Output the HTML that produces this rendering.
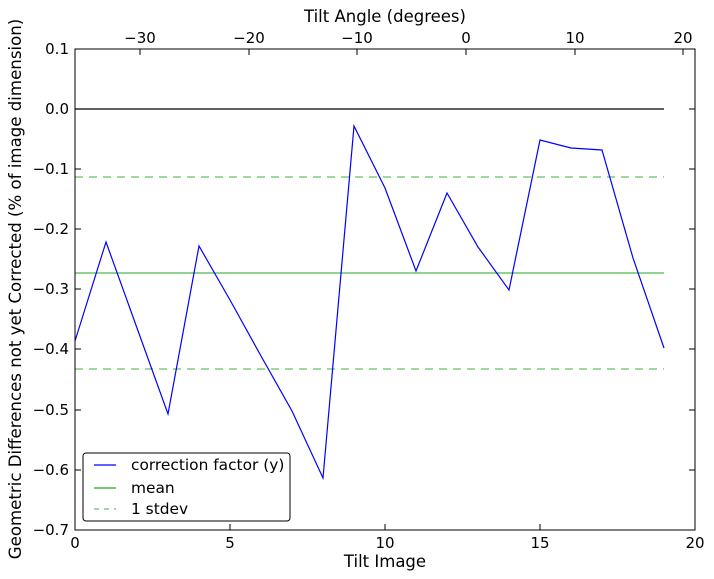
<!DOCTYPE html>
<html><head><meta charset="utf-8"><style>body{margin:0;background:#fff}svg{display:block}</style></head><body>
<svg width="714" height="579" xmlns="http://www.w3.org/2000/svg" font-family="DejaVu Sans, Liberation Sans, sans-serif" font-size="15">
<rect width="714" height="579" fill="#fff"/>
<line x1="75" y1="109" x2="664" y2="109" stroke="#000" stroke-width="1.2"/>
<line x1="75" y1="273" x2="664" y2="273" stroke="#2a2" stroke-opacity="0.8" stroke-width="1.2"/>
<line x1="75" y1="177" x2="664" y2="177" stroke="#2a2" stroke-opacity="0.7" stroke-width="1.2" stroke-dasharray="8,6"/>
<line x1="75" y1="369" x2="664" y2="369" stroke="#2a2" stroke-opacity="0.7" stroke-width="1.2" stroke-dasharray="8,6"/>
<polyline fill="none" stroke="#00f" stroke-width="1.2" points="75,341 106,242 137,328 168,414 199,246 230,300 261,356 292,411 323,478 354,126 385,188 416,271 447,193 478,247 509,290 540,140 571,148 602,150 633,258 664,348"/>
<rect x="75" y="49" width="620" height="481" fill="none" stroke="#000" stroke-width="1"/>
<g stroke="#000">
<line x1="75" y1="530" x2="75" y2="524"/><line x1="230" y1="530" x2="230" y2="524"/><line x1="385" y1="530" x2="385" y2="524"/><line x1="540" y1="530" x2="540" y2="524"/><line x1="695" y1="530" x2="695" y2="524"/>
<line x1="140" y1="49" x2="140" y2="55"/><line x1="249" y1="49" x2="249" y2="55"/><line x1="357" y1="49" x2="357" y2="55"/><line x1="466" y1="49" x2="466" y2="55"/><line x1="575" y1="49" x2="575" y2="55"/><line x1="683" y1="49" x2="683" y2="55"/>
<line x1="75" y1="49" x2="81" y2="49"/><line x1="75" y1="109" x2="81" y2="109"/><line x1="75" y1="169" x2="81" y2="169"/><line x1="75" y1="229" x2="81" y2="229"/><line x1="75" y1="289" x2="81" y2="289"/><line x1="75" y1="349" x2="81" y2="349"/><line x1="75" y1="410" x2="81" y2="410"/><line x1="75" y1="470" x2="81" y2="470"/><line x1="75" y1="530" x2="81" y2="530"/>
<line x1="695" y1="49" x2="689" y2="49"/><line x1="695" y1="109" x2="689" y2="109"/><line x1="695" y1="169" x2="689" y2="169"/><line x1="695" y1="229" x2="689" y2="229"/><line x1="695" y1="289" x2="689" y2="289"/><line x1="695" y1="349" x2="689" y2="349"/><line x1="695" y1="410" x2="689" y2="410"/><line x1="695" y1="470" x2="689" y2="470"/><line x1="695" y1="530" x2="689" y2="530"/>
</g>
<g text-anchor="middle">
<text x="75" y="548">0</text><text x="230" y="548">5</text><text x="385" y="548">10</text><text x="540" y="548">15</text><text x="695" y="548">20</text>
<text x="385" y="567" font-size="16.5">Tilt Image</text>
<text x="140" y="43">−30</text><text x="249" y="43">−20</text><text x="357" y="43">−10</text><text x="466" y="43">0</text><text x="575" y="43">10</text><text x="683" y="43">20</text>
<text x="385" y="22" font-size="16.5">Tilt Angle (degrees)</text>
</g>
<g text-anchor="end">
<text x="69" y="54">0.1</text><text x="69" y="114">0.0</text><text x="69" y="174">−0.1</text><text x="69" y="234">−0.2</text><text x="69" y="294">−0.3</text><text x="69" y="354">−0.4</text><text x="69" y="415">−0.5</text><text x="69" y="475">−0.6</text><text x="69" y="535">−0.7</text>
</g>
<text transform="translate(21,289) rotate(-90)" text-anchor="middle" font-size="16.6">Geometric Differences not yet Corrected (% of image dimension)</text>
<rect x="83" y="453" width="207" height="68" rx="3" fill="#fff" stroke="#000"/>
<line x1="94" y1="465" x2="116" y2="465" stroke="#00f" stroke-width="1.2"/>
<line x1="94" y1="488" x2="116" y2="488" stroke="#2a2" stroke-width="1.2"/>
<line x1="94" y1="509" x2="116" y2="509" stroke="#2a2" stroke-opacity="0.7" stroke-width="1.2" stroke-dasharray="5,5"/>
<g font-size="15.4">
<text x="131" y="470">correction factor (y)</text>
<text x="131" y="493">mean</text>
<text x="131" y="514">1 stdev</text>
</g>
</svg>
</body></html>
